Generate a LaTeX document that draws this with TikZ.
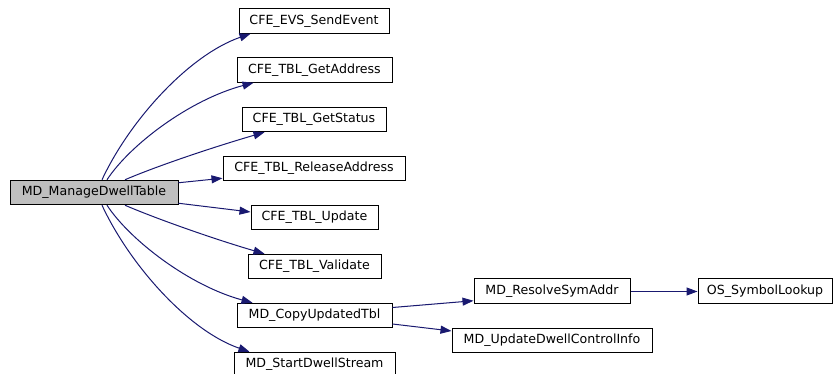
\documentclass[tikz,border=0pt]{standalone}
\usepackage{fontspec}
\setmainfont{DejaVu Sans}
\usetikzlibrary{arrows.meta}
\definecolor{edgecol}{HTML}{191970}
\definecolor{rootfill}{HTML}{BFBFBF}
\tikzset{
  fn/.style={draw=black, line width=1pt, fill=white, minimum height=24.5pt, inner sep=0pt, font=\fontsize{12.6}{15}\selectfont},
  root/.style={fn, fill=rootfill},
  call/.style={draw=edgecol, line width=1pt, -{Triangle[length=11pt,width=8pt]}, edgecol}
}
\begin{document}
\begin{tikzpicture}[x=1pt,y=-1pt]
\useasboundingbox (0,0) rectangle (833,374);
\node[root, minimum width=168pt] (m) at (94,192.5) {MD\_ManageDwellTable};
\node[fn, minimum width=150pt] (evs) at (314,21) {CFE\_EVS\_SendEvent};
\node[fn, minimum width=155pt] (gad) at (314.5,70) {CFE\_TBL\_GetAddress};
\node[fn, minimum width=144pt] (gst) at (314,119.5) {CFE\_TBL\_GetStatus};
\node[fn, minimum width=182pt] (rel) at (314,168.5) {CFE\_TBL\_ReleaseAddress};
\node[fn, minimum width=127pt] (upd) at (314.5,217.5) {CFE\_TBL\_Update};
\node[fn, minimum width=133pt] (val) at (314.5,266.5) {CFE\_TBL\_Validate};
\node[fn, minimum width=155pt] (cpy) at (314.5,315.5) {MD\_CopyUpdatedTbl};
\node[fn, minimum width=161pt] (sds) at (314.5,364.5) {MD\_StartDwellStream};
\node[fn, minimum width=156pt] (rsa) at (552,291) {MD\_ResolveSymAddr};
\node[fn, minimum width=200pt] (udc) at (552,340.5) {MD\_UpdateDwellControlInfo};
\node[fn, minimum width=134pt] (osl) at (765,291) {OS\_SymbolLookup};

\draw[call] ([xshift=8pt]m.north) .. controls +(28,-60) and +(-61,21) .. ([xshift=12pt]evs.south west);
\draw[call] ([xshift=13pt]m.north) .. controls +(23,-35) and +(-64,17) .. ([xshift=17pt]gad.south west);
\draw[call] ([xshift=31pt]m.north) .. controls +(35,-15) and +(-45,13) .. ([xshift=23pt]gst.south west);
\draw[call] ([yshift=-3pt]m.north east) -- ([yshift=3pt]rel.south west);
\draw[call] ([yshift=2pt]m.south east) -- ([yshift=5.5pt]upd.west);
\draw[call] ([xshift=31pt]m.south) .. controls +(35,15) and +(-45,-13) .. ([xshift=17pt]val.north west);
\draw[call] ([xshift=13pt]m.south) .. controls +(23,35) and +(-63,-17) .. ([xshift=16pt]cpy.north west);
\draw[call] ([xshift=8pt]m.south) .. controls +(28,60) and +(-61,-21) .. ([xshift=16pt]sds.north west);
\draw[call] ([yshift=8pt]cpy.east) -- ([yshift=3pt]rsa.south west);
\draw[call] ([yshift=-8.5pt]cpy.east) -- ([yshift=9.5pt]udc.west);
\draw[call] ([yshift=-0.5pt]rsa.east) -- ([yshift=-0.5pt]osl.west);
\end{tikzpicture}
\end{document}
